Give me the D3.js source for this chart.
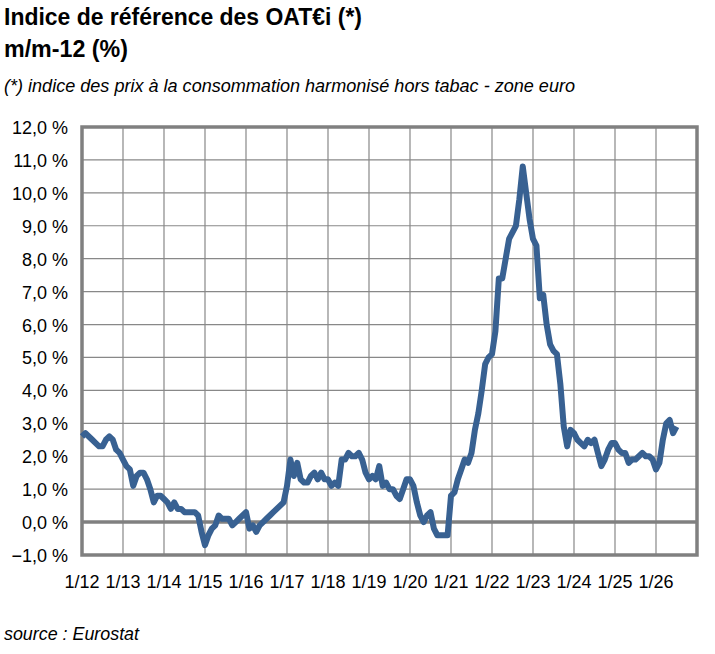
<!DOCTYPE html>
<html><head><meta charset="utf-8">
<script src="https://cdn.jsdelivr.net/npm/d3@7"></script>
<style>body{margin:0;background:#fff}text{font-family:"Liberation Sans",Arial,sans-serif}</style>
</head><body><div id="chart"></div>
<script>
var svgWidth = 715, svgHeight = 654;
var margin = {top: 127, right: 18, bottom: 99, left: 82};
var width = svgWidth - margin.left - margin.right;
var height = svgHeight - margin.top - margin.bottom;

var startYear = 2012;
var yearLabels = ["1/12","1/13","1/14","1/15","1/16","1/17","1/18","1/19","1/20","1/21","1/22","1/23","1/24","1/25","1/26"];
var yTicks = [-1,0,1,2,3,4,5,6,7,8,9,10,11,12];
// monthly y/y %, from 1/2012
var values = [
  2.6,2.7,2.6,2.5,2.4,2.3,2.3,2.5,2.6,2.5,2.2,2.1,
  1.9,1.7,1.6,1.1,1.4,1.5,1.5,1.3,1.0,0.6,0.8,0.8,
  0.7,0.6,0.4,0.6,0.4,0.4,0.3,0.3,0.3,0.3,0.2,-0.3,
  -0.7,-0.4,-0.2,-0.1,0.2,0.1,0.1,0.1,-0.1,0.0,0.1,0.2,
  0.3,-0.2,-0.1,-0.3,-0.1,0.0,0.1,0.2,0.3,0.4,0.5,0.6,
  1.1,1.9,1.4,1.8,1.3,1.2,1.2,1.4,1.5,1.3,1.5,1.3,
  1.3,1.1,1.2,1.1,1.9,1.9,2.1,2.0,2.0,2.1,1.9,1.5,
  1.3,1.4,1.3,1.7,1.1,1.2,1.0,1.0,0.8,0.7,1.0,1.3,
  1.3,1.1,0.6,0.2,0.0,0.2,0.3,-0.2,-0.4,-0.4,-0.4,-0.4,
  0.8,0.9,1.3,1.6,1.9,1.8,2.1,2.8,3.3,4.0,4.8,5.0,
  5.1,5.8,7.4,7.4,8.0,8.6,8.8,9.0,9.8,10.8,10.0,9.2,
  8.6,8.4,6.8,6.9,6.0,5.4,5.2,5.1,4.2,2.9,2.3,2.8,
  2.7,2.5,2.4,2.3,2.5,2.4,2.5,2.1,1.7,1.9,2.2,2.4,
  2.4,2.2,2.1,2.1,1.8,1.9,1.9,2.0,2.1,2.0,2.0,1.9,
  1.6,1.8,2.5,3.0,3.1,2.7,2.9
];

var svg = d3.select("#chart").append("svg").attr("width", svgWidth).attr("height", svgHeight);

function narrow(sel, w) { return sel.attr("textLength", w).attr("lengthAdjust", "spacingAndGlyphs"); }

narrow(svg.append("text").attr("x", 4).attr("y", 25).attr("font-size", 23).attr("font-weight", "bold").text("Indice de référence des OAT€i (*)"), 358);
narrow(svg.append("text").attr("x", 4).attr("y", 57).attr("font-size", 23).attr("font-weight", "bold").text("m/m-12 (%)"), 124);
narrow(svg.append("text").attr("x", 4).attr("y", 92).attr("font-size", 19).attr("font-style", "italic").text("(*) indice des prix à la consommation harmonisé hors tabac - zone euro"), 571);
narrow(svg.append("text").attr("x", 4).attr("y", 640).attr("font-size", 19).attr("font-style", "italic").text("source : Eurostat"), 135);

var g = svg.append("g").attr("transform", "translate(" + margin.left + "," + margin.top + ")");

var x = d3.scaleLinear().domain([startYear, startYear + 15]).range([0, width]);
var y = d3.scaleLinear().domain([-1, 12]).range([height, 0]);

g.selectAll(".hg").data(yTicks).enter().append("line")
  .attr("x1", 0).attr("x2", width).attr("y1", d => y(d)).attr("y2", d => y(d))
  .attr("stroke", "#888").attr("stroke-width", 1.2);
g.selectAll(".vg").data(d3.range(1, 15)).enter().append("line")
  .attr("x1", d => x(startYear + d)).attr("x2", d => x(startYear + d)).attr("y1", 0).attr("y2", height)
  .attr("stroke", "#888").attr("stroke-width", 1.2);
g.append("line").attr("x1", 0).attr("x2", width).attr("y1", y(0)).attr("y2", y(0))
  .attr("stroke", "#808080").attr("stroke-width", 3.5);
g.append("rect").attr("width", width).attr("height", height).attr("fill", "none")
  .attr("stroke", "#808080").attr("stroke-width", 3.5);

g.selectAll(".yl").data(yTicks).enter().append("text")
  .attr("x", -14).attr("y", d => y(d) + 7).attr("text-anchor", "end").attr("font-size", 18)
  .text(d => d3.format(".1f")(d).replace(".", ",") + " %");
g.selectAll(".xl").data(yearLabels).enter().append("text")
  .attr("x", (d, i) => x(startYear + i)).attr("y", height + 33).attr("text-anchor", "middle").attr("font-size", 18)
  .text(d => d);

var line = d3.line().x((d, i) => x(startYear + i / 12)).y(d => y(d));
g.append("path").datum(values).attr("d", line).attr("fill", "none")
  .attr("stroke", "#386192").attr("stroke-width", 6).attr("stroke-linejoin", "round");
</script></body></html>
